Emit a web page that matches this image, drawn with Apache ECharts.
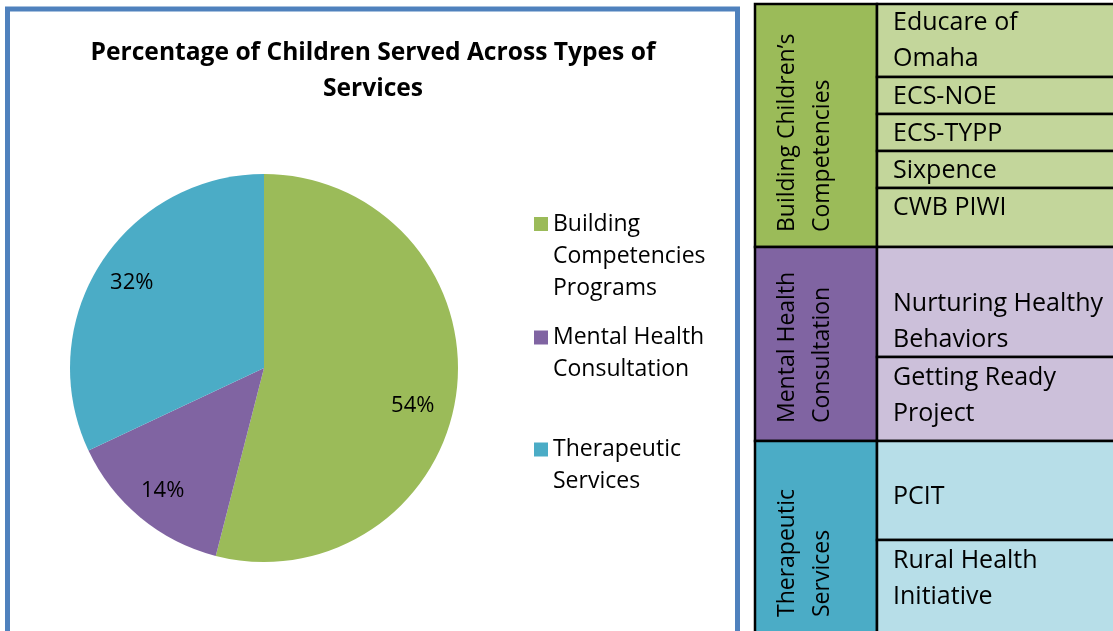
<!DOCTYPE html>
<html>
<head>
<meta charset="utf-8">
<script src="https://cdn.jsdelivr.net/npm/echarts@6/dist/echarts.min.js"></script>
<style>
html,body{margin:0;padding:0;background:#fff;}
#chart{width:1113px;height:631px;}
</style>
</head>
<body>
<div id="chart"></div>
<script>
// ---- data ----
const titleLines = ['Percentage of Children Served Across Types of', 'Services'];
const categories = ['Building Competencies Programs', 'Mental Health Consultation', 'Therapeutic Services'];
const legendLines = [['Building', 'Competencies', 'Programs'], ['Mental Health', 'Consultation'], ['Therapeutic', 'Services']];
const values = [54, 14, 32];
const groupLabels = [['Building Children’s', 'Competencies'], ['Mental Health', 'Consultation'], ['Therapeutic', 'Services']];
const programs = [
  [['Educare of', 'Omaha'], ['ECS-NOE'], ['ECS-TYPP'], ['Sixpence'], ['CWB PIWI']],
  [['Nurturing Healthy', 'Behaviors'], ['Getting Ready', 'Project']],
  [['PCIT'], ['Rural Health', 'Initiative']]
];

// ---- styles / layout ----
const FONT = '"Open Sans"';
const darkColors = ['#9BBB59', '#8064A2', '#4BACC6'];
const lightColors = ['#C3D69B', '#CCC0DA', '#B7DEE8'];
const rowEdges = [[4, 77, 114, 151, 188, 247], [247, 357, 441], [441, 540, 680]];
const rowTextTop = [[5, 79, 116, 153, 190], [286, 360], [479, 543]];
const groupTextBottom = [232, 423, 617];
const tableX0 = 755, tableX1 = 877, tableX2 = 1130;
const legendIconCenters = [224, 337.5, 449.5];
const LEG_LH = 32;
const labelNudge = [[-9, 18], [0, 0], [2, 0]];

const chart = echarts.init(document.getElementById('chart'), null, {renderer: 'canvas'});

const graphics = [];
// box border
graphics.push({
  type: 'rect', shape: {x: 7.5, y: 9, width: 730, height: 628},
  style: {fill: 'none', stroke: '#4F81BD', lineWidth: 5}, z: 0
});
// table
programs.forEach((rows, g) => {
  const edges = rowEdges[g];
  graphics.push({
    type: 'rect', shape: {x: tableX0, y: edges[0], width: tableX1 - tableX0, height: edges[edges.length - 1] - edges[0]},
    style: {fill: darkColors[g], stroke: '#000', lineWidth: 2.5}, z: 1
  });
  graphics.push({
    type: 'text', x: 770, y: groupTextBottom[g], rotation: Math.PI / 2,
    style: {text: groupLabels[g].join('\n'), font: '23px ' + FONT, fill: '#000', align: 'left', verticalAlign: 'top', lineHeight: 35},
    z: 3
  });
  rows.forEach((lines, r) => {
    graphics.push({
      type: 'rect', shape: {x: tableX1, y: edges[r], width: tableX2 - tableX1, height: edges[r + 1] - edges[r]},
      style: {fill: lightColors[g], stroke: '#000', lineWidth: 2.5}, z: 1
    });
    graphics.push({
      type: 'text', x: 893, y: rowTextTop[g][r],
      style: {text: lines.join('\n'), font: '25px ' + FONT, fill: '#000', align: 'left', verticalAlign: 'top', lineHeight: 36},
      z: 3
    });
  });
});

const pieData = categories.map((c, i) => ({name: c, value: values[i], itemStyle: {color: darkColors[i]}}));

const legends = categories.map((c, i) => {
  const n = legendLines[i].length;
  const textH = (2 * n - 1) * LEG_LH;
  return {
    data: [c], left: 534, top: legendIconCenters[i] - textH / 2,
    orient: 'vertical', padding: 0, itemGap: 0, itemWidth: 14, itemHeight: 14, icon: 'rect',
    selectedMode: false,
    formatter: () => '\n'.repeat(n - 1) + legendLines[i].join('\n'),
    textStyle: {fontFamily: FONT, fontSize: 23, color: '#000', lineHeight: LEG_LH}
  };
});

chart.setOption({
  animation: false,
  backgroundColor: '#fff',
  title: {
    text: titleLines.join('\n'), left: 368, top: 30, textAlign: 'center',
    textStyle: {fontFamily: FONT, fontWeight: 'bold', fontSize: 24.6, lineHeight: 36, color: '#000'}
  },
  legend: legends,
  series: [
    {
      type: 'pie', center: [264, 368], radius: 194, startAngle: 90, clockwise: true, silent: true,
      data: pieData, label: {show: false}, labelLine: {show: false}
    },
    {
      type: 'pie', center: [264, 368], radius: [118, 194], startAngle: 90, clockwise: true, silent: true,
      data: pieData.map(d => ({name: d.name, value: d.value, itemStyle: {color: 'rgba(0,0,0,0)'}})),
      label: {show: true, position: 'inside', formatter: '{c}%', fontFamily: FONT, fontSize: 22, color: '#000'},
      labelLine: {show: false},
      labelLayout: (p) => ({dx: labelNudge[p.dataIndex][0], dy: labelNudge[p.dataIndex][1]})
    }
  ],
  graphic: graphics
});
</script>
</body>
</html>
